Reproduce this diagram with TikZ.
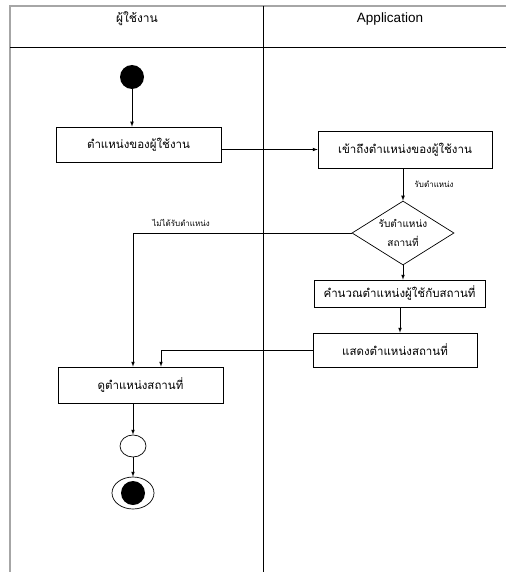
\documentclass[tikz,border=0pt]{standalone}
\usepackage{fontspec}
\setmainfont{Liberation Sans}
\newfontfamily\thai[Script=Thai]{Loma}
\usetikzlibrary{shapes.geometric, arrows, calc}

\begin{document}
\begin{tikzpicture}[x=1pt, y=-1pt, ->, >=latex, line width=0.7pt,
	activity/.style={rectangle, draw, inner sep=2pt, font=\thai\fontsize{11.5}{13}\selectfont},
	choice/.style={diamond, draw, aspect=1.6, inner sep=0pt, align=center, font=\thai\fontsize{10}{19}\selectfont},
	guard/.style={font=\thai\fontsize{8}{10}\selectfont},
	lane/.style={-, line width=0.8pt},
	startstate/.style={circle, fill, minimum size=24, inner sep=0pt},
	mergestate/.style={ellipse, draw, minimum width=26, minimum height=22, inner sep=0pt},
	endstate/.style={ellipse, draw, minimum width=42, minimum height=32, inner sep=0pt,
		path picture={\fill (path picture bounding box.center) circle (12pt);}}]
	\useasboundingbox (0,0) rectangle (506,572);

	% swimlanes
	\draw[lane, gray!70, line width=1.5pt] (10,572) -- (10,6) -- (506,6);
	\draw[lane] (10,47) -- (506,47);
	\draw[lane] (263,6) -- (263,572);
	\node[font=\thai\fontsize{12}{14}\selectfont] (userlane) at (137,19) {ผู้ใช้งาน};
	\node[font=\fontsize{13.5}{15}\selectfont] (applane) at (390,19) {Application};

	\node[startstate] (start)                                          at (132,77)    {};
	\node[activity, minimum width=165, minimum height=35] (userpos)   at (138.5,144.5) {ตำแหน่งของผู้ใช้งาน};
	\node[activity, minimum width=174, minimum height=37] (access)    at (405,149.5)  {เข้าถึงตำแหน่งของผู้ใช้งาน};
	\node[choice, minimum width=102, minimum height=64] (gotpos)      at (403,233)    {รับตำแหน่ง\\สถานที่};
	\node[activity, minimum width=171, minimum height=27] (calcpos)   at (399.5,293.5) {คำนวณตำแหน่งผู้ใช้กับสถานที่};
	\node[activity, minimum width=164, minimum height=34] (showpos)   at (395,350)    {แสดงตำแหน่งสถานที่};
	\node[activity, minimum width=165, minimum height=36] (viewpos)   at (140.5,385)  {ดูตำแหน่งสถานที่};
	\node[mergestate] (merge)                                          at (133,446)    {};
	\node[endstate] (final)                                            at (133,493)    {};

	\path 	(start) edge (userpos.north -| start)
	(userpos.east |- access) edge (access)
	(access.south -| gotpos) edge node[guard, right=8pt] {รับตำแหน่ง} (gotpos)
	(gotpos) edge (gotpos |- calcpos.north)
	(calcpos.south -| 400,0) edge (showpos.north -| 400,0)
	(viewpos.south -| merge) edge (merge)
	(merge) edge (final);

	\draw (gotpos.west) -| node[guard, pos=0.39, above=3pt] {ไม่ได้รับตำแหน่ง} (viewpos.north -| merge);
	\draw (showpos.west) -| ($(viewpos.north -| merge)+(28,0)$);
\end{tikzpicture}
\end{document}
